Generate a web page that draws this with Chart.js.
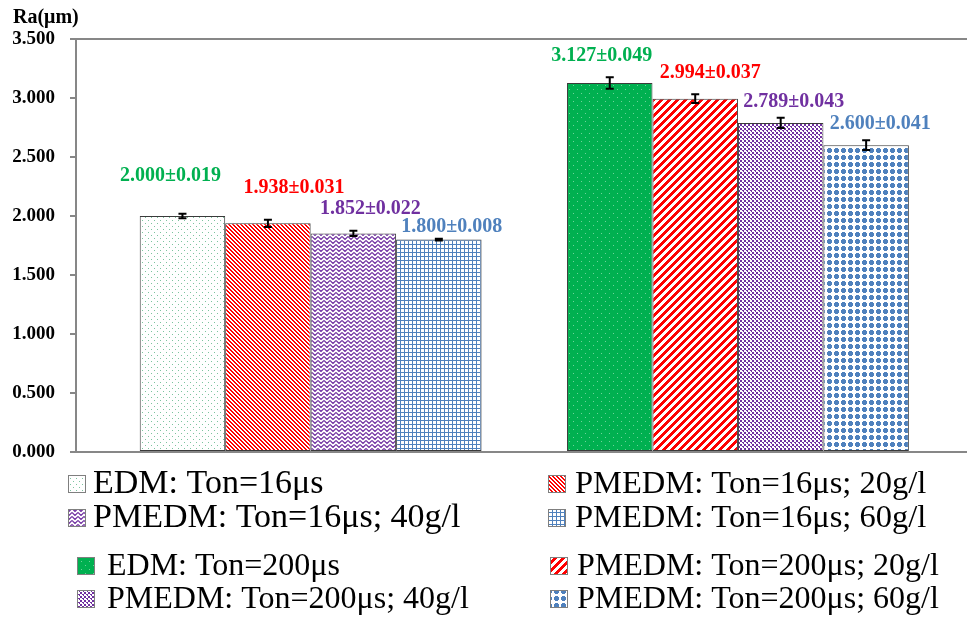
<!DOCTYPE html>
<html>
<head>
<meta charset="utf-8">
<script src="https://cdn.jsdelivr.net/npm/chart.js@4"></script>
<style>
  html, body { margin: 0; padding: 0; background: #fff; }
  #wrap { width: 967px; height: 628px; }
</style>
</head>
<body>
<div id="wrap"><canvas id="c" width="967" height="628"></canvas></div>
<script>
// Surface roughness Ra (µm) for EDM and powder-mixed EDM at two pulse-on times
const categories = ['Ton=16μs', 'Ton=200μs'];
const seriesNames = [
  'EDM: Ton=16μs', 'PMEDM: Ton=16μs; 20g/l',
  'PMEDM: Ton=16μs; 40g/l', 'PMEDM: Ton=16μs; 60g/l',
  'EDM: Ton=200μs', 'PMEDM: Ton=200μs; 20g/l',
  'PMEDM: Ton=200μs; 40g/l', 'PMEDM: Ton=200μs; 60g/l'
];
const seriesCategory = [0, 0, 0, 0, 1, 1, 1, 1];
const raMean  = [2.000, 1.938, 1.852, 1.800, 3.127, 2.994, 2.789, 2.600];
const raError = [0.019, 0.031, 0.022, 0.008, 0.049, 0.037, 0.043, 0.041];
const yTicks  = [0, 0.5, 1.0, 1.5, 2.0, 2.5, 3.0, 3.5];

const GREEN = '#00B050', RED = '#FF0000', PURPLE = '#7030A0', BLUE = '#4F81BD';
const labelColors = [GREEN, RED, PURPLE, BLUE, GREEN, RED, PURPLE, BLUE];
// value label placement relative to the top centre of each bar (px)
const labelOffsets = [[-12, -40], [26, -35], [17, -25], [13, -13],
                      [-8, -27], [15, -26], [13, -21], [14, -21]];
// legend entry layout: swatch x, text x, baseline y, font size (one per series)
const legendBoxX    = [68, 548, 68, 548, 77, 550, 77, 550];
const legendTextX   = [93, 575, 93, 575, 107, 577, 107, 577];
const legendBase    = [493, 493, 527, 527, 575, 575, 608, 608];
const legendFontPx  = [34, 32.5, 34, 32.5, 32, 32, 32, 32];

const SERIF = '"Liberation Serif", "Times New Roman", serif';
const AXIS_GREY = '#878787';

const canvas = document.getElementById('c');
const ctx = canvas.getContext('2d');

function tile(w, h, paint) {
  const t = document.createElement('canvas');
  t.width = w; t.height = h;
  const g = t.getContext('2d');
  g.fillStyle = '#fff';
  g.fillRect(0, 0, w, h);
  paint(g);
  return ctx.createPattern(t, 'repeat');
}

const fills = [
  // sparse dots
  tile(6, 6, g => { g.fillStyle = '#7cc49f'; g.fillRect(1, 1, 1, 1); g.fillRect(4, 4, 1, 1); }),
  // narrow downward diagonal
  tile(4, 4, g => { g.fillStyle = RED; for (let i = 0; i < 4; i++) { g.fillRect(i, i, 1, 1); g.fillRect((i + 1) % 4, i, 1, 1); } }),
  // zig-zag
  tile(6, 4, g => { g.strokeStyle = PURPLE; g.lineWidth = 1.2; g.beginPath(); g.moveTo(0, 0.5); g.lineTo(3, 3.5); g.lineTo(6, 0.5); g.stroke(); }),
  // small grid
  tile(4, 4, g => { g.fillStyle = BLUE; g.fillRect(0, 0, 4, 1); g.fillRect(0, 0, 1, 4); }),
  // solid green with light dots
  tile(8, 8, g => { g.fillStyle = GREEN; g.fillRect(0, 0, 8, 8); g.fillStyle = '#6fd39a'; g.fillRect(1, 1, 1, 1); g.fillRect(5, 5, 1, 1); }),
  // wide upward diagonal
  tile(8, 8, g => { g.fillStyle = RED; for (let y = 0; y < 8; y++) for (let k = 0; k < 4; k++) g.fillRect((15 - y + k) % 8, y, 1, 1); }),
  // confetti
  tile(4, 4, g => { g.fillStyle = PURPLE; g.fillRect(0, 0, 2, 2); g.fillRect(2, 2, 2, 1); g.fillRect(3, 3, 1, 1); }),
  // large dots
  tile(7, 7, g => { g.fillStyle = BLUE; g.fillRect(2, 1, 3, 5); g.fillRect(1, 2, 5, 3); })
];

const datasets = seriesNames.map((name, i) => ({
  label: name,
  data: categories.map((_, c) => (c === seriesCategory[i] ? raMean[i] : null)),
  backgroundColor: fills[i],
  borderColor: '#3a3a3a',
  borderWidth: 1,
  borderSkipped: false
}));

// category band placement along the x axis
const bandLeft = 97, bandWidth = 854.6;

const layoutPlugin = {
  id: 'bandLayout',
  afterLayout(chart) {
    const x = chart.scales.x;
    x._startPixel = bandLeft;
    x._endPixel = bandLeft + bandWidth;
    x._length = bandWidth;
  }
};

const decorPlugin = {
  id: 'decor',
  beforeDatasetsDraw(chart) {
    const { ctx: g, chartArea: a } = chart;
    g.save();
    g.strokeStyle = AXIS_GREY;
    g.lineWidth = 2;
    g.beginPath();
    g.moveTo(a.left, a.top);
    g.lineTo(a.right, a.top);
    g.stroke();
    g.restore();
  },
  afterDatasetsDraw(chart) {
    const g = chart.ctx;
    const y = chart.scales.y;
    g.save();
    chart.data.datasets.forEach((ds, i) => {
      const meta = chart.getDatasetMeta(i);
      const el = meta.data[seriesCategory[i]];
      const v = raMean[i], e = raError[i];
      const top = y.getPixelForValue(v + e), bot = y.getPixelForValue(v - e);
      // error bar
      g.strokeStyle = '#000';
      g.lineWidth = 2;
      g.beginPath();
      g.moveTo(el.x, top); g.lineTo(el.x, bot);
      g.moveTo(el.x - 4, top); g.lineTo(el.x + 4, top);
      g.moveTo(el.x - 4, bot); g.lineTo(el.x + 4, bot);
      g.stroke();
      // value label
      g.fillStyle = labelColors[i];
      g.font = 'bold 20px ' + SERIF;
      g.textAlign = 'center';
      g.textBaseline = 'middle';
      const [dx, dy] = labelOffsets[i];
      g.fillText(v.toFixed(3) + '±' + e.toFixed(3), el.x + dx, y.getPixelForValue(v) + dy);
    });
    // axis title
    g.fillStyle = '#000';
    g.font = 'bold 20px ' + SERIF;
    g.textAlign = 'left';
    g.textBaseline = 'alphabetic';
    g.fillText('Ra(μm)', 13, 23);
    g.restore();
  },
  afterDraw(chart) {
    const g = chart.ctx;
    g.save();
    g.textBaseline = 'alphabetic';
    g.textAlign = 'left';
    seriesNames.forEach((name, i) => {
      const bx = legendBoxX[i], by = legendBase[i] - 18;
      g.fillStyle = fills[i];
      g.fillRect(bx, by, 18, 18);
      g.strokeStyle = '#7f7f7f';
      g.lineWidth = 1;
      g.strokeRect(bx + 0.5, by + 0.5, 17, 17);
      g.fillStyle = '#000';
      g.font = legendFontPx[i] + 'px ' + SERIF;
      g.fillText(name, legendTextX[i], legendBase[i]);
    });
    g.restore();
  }
};

new Chart(canvas, {
  type: 'bar',
  data: { labels: categories, datasets },
  options: {
    responsive: false,
    animation: false,
    devicePixelRatio: 1,
    layout: { padding: { top: 39, bottom: 176, left: 0, right: 0 } },
    datasets: { bar: { categoryPercentage: 0.8, barPercentage: 1.0, skipNull: true } },
    plugins: { legend: { display: false }, tooltip: { enabled: false } },
    scales: {
      x: {
        type: 'category',
        grid: { display: false },
        ticks: { display: false },
        border: { color: AXIS_GREY, width: 2 },
        afterFit(s) { s.height = 0; }
      },
      y: {
        min: 0,
        max: 3.5,
        afterBuildTicks(s) { s.ticks = yTicks.map(v => ({ value: v })); },
        ticks: {
          color: '#000',
          padding: 15,
          font: { family: SERIF, size: 19, weight: 'bold' },
          callback: v => Number(v).toFixed(3)
        },
        grid: { drawOnChartArea: false, drawTicks: true, tickLength: 6, color: AXIS_GREY, lineWidth: 2 },
        border: { color: AXIS_GREY, width: 2 },
        afterFit(s) { s.width = 76; }
      }
    }
  },
  plugins: [layoutPlugin, decorPlugin]
});
</script>
</body>
</html>
